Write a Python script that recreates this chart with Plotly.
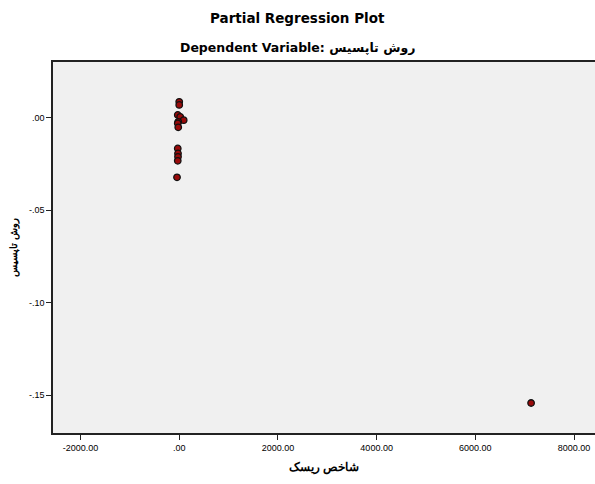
import plotly.graph_objects as go

# Partial regression residuals (x: شاخص ریسک, y: روش تاپسیس)
x_vals = [0, 0, -30, 20, 90, -20, -30, -20, -30, -25, -25, -30, -45, 7130]
y_vals = [0.0085, 0.0068, 0.0014, 0.0004, -0.0014, -0.0023, -0.0031, -0.0053,
          -0.0167, -0.0194, -0.0212, -0.0234, -0.0323, -0.1542]

x_tickvals = [-2000, 0, 2000, 4000, 6000, 8000]
x_ticktext = ["-2000.00", ".00", "2000.00", "4000.00", "6000.00", "8000.00"]
y_tickvals = [0.0, -0.05, -0.10, -0.15]
y_ticktext = [".00", "-.05", "-.10", "-.15"]

title_text = "Partial Regression Plot"
subtitle_text = "Dependent Variable: روش تاپسیس"
x_title = "شاخص ریسک"
y_title = "روش تاپسیس"

fig = go.Figure()
fig.add_trace(go.Scatter(
    x=x_vals, y=y_vals, mode="markers",
    marker=dict(size=6.5, color="#9A0A0A", line=dict(color="#111111", width=1.3)),
    showlegend=False,
))

font_family = "Liberation Sans, Arial, sans-serif"
title_family = "DejaVu Sans, sans-serif"
plot_h = 484 - 62 - 51

fig.update_layout(
    width=595, height=484,
    margin=dict(l=53, r=0, t=62, b=51),
    paper_bgcolor="white",
    plot_bgcolor="#F0F0F0",
    font=dict(family=font_family, color="black"),
    annotations=[
        dict(text="<b>" + title_text + "</b>", xref="paper", yref="paper",
             x=0.452, y=1 + (62 - 18) / plot_h, xanchor="center", yanchor="middle",
             showarrow=False, font=dict(size=13.5, family=title_family)),
        dict(text="<b>" + subtitle_text + "</b>", xref="paper", yref="paper",
             x=0.452, y=1 + (62 - 47) / plot_h, xanchor="center", yanchor="middle",
             showarrow=False, font=dict(size=12.5, family=title_family)),
    ],
)

fig.update_xaxes(
    range=[-2558, 8425], automargin=False,
    tickvals=x_tickvals, ticktext=x_ticktext,
    showgrid=False, zeroline=False,
    showline=True, linecolor="#222222", linewidth=1.5, mirror=True,
    ticks="outside", ticklen=5, tickcolor="#222222", tickwidth=1,
    tickfont=dict(size=9, family=font_family),
    title=dict(text="<b>" + x_title + "</b>", font=dict(size=12, family=font_family), standoff=11),
)
fig.update_yaxes(
    range=[-0.1704, 0.030], automargin=False,
    tickvals=y_tickvals, ticktext=y_ticktext,
    showgrid=False, zeroline=False,
    showline=True, linecolor="#222222", linewidth=1.5, mirror=False,
    ticks="outside", ticklen=5, tickcolor="#222222", tickwidth=1,
    tickfont=dict(size=9, family=font_family),
    title=dict(text="<b>" + y_title + "</b>", font=dict(size=10, family=font_family), standoff=9),
)

fig.write_html(
    "out.html",
    config={"displayModeBar": False},
    post_script="document.body.style.margin='0px';document.body.style.overflow='hidden';",
)
